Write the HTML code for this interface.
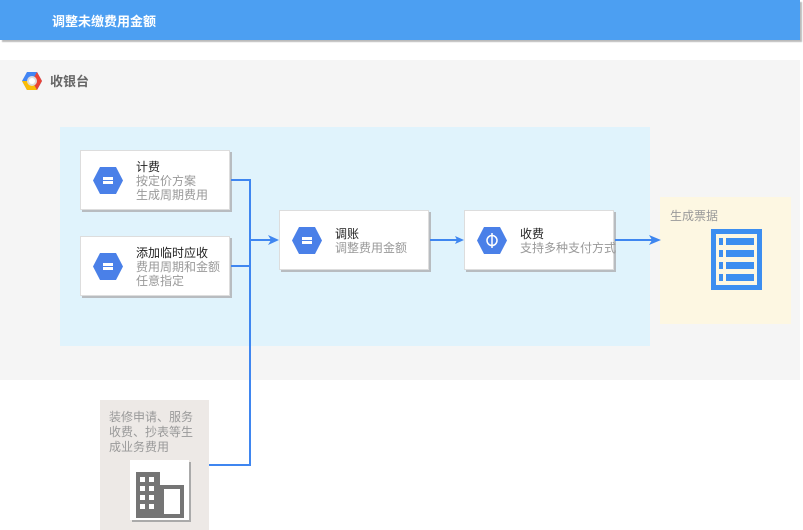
<!DOCTYPE html>
<html><head><meta charset="utf-8"><style>
body{margin:0;width:803px;height:530px;position:relative;overflow:hidden;background:#fff;font-family:"Liberation Sans","Noto Sans CJK SC",sans-serif}
.a{position:absolute}
.node{position:absolute;background:#fff;border:1px solid #ddd;box-shadow:2px 2px 0 #b8bcc0;width:150px;height:60px;box-sizing:border-box}
.t{position:absolute;left:55px;font-size:12px;line-height:14px;color:#222;white-space:nowrap}
.t span{color:#999}
.hex{position:absolute;left:12px;top:16px}
</style></head><body>
<div class="a" style="left:0;top:0;width:800px;height:40px;background:#4c9ff2;box-shadow:2px 2px 1px #bbb"></div>
<div class="a" style="left:52px;top:11px;color:#fff;font-size:13px;font-weight:bold">调整未缴费用金额</div>
<div class="a" style="left:0;top:60px;width:800px;height:320px;background:#f5f5f5"></div>
<svg class="a" style="left:21px;top:70px" width="22" height="22" viewBox="0 0 22 22"><polygon points="6,2 16,2 21,11 16,20 6,20 1,11" fill="#4285f4"/><polygon points="16,2 21,11 16,20 11,11" fill="#ea4335"/><polygon points="1,11 6,20 16,20 11,11" fill="#fbbc05"/><circle cx="11" cy="11" r="5" fill="#ddd"/><circle cx="11" cy="11" r="3" fill="#fff"/></svg>
<div class="a" style="left:50px;top:71px;font-size:13px;font-weight:bold;color:#666">收银台</div>
<div class="a" style="left:60px;top:127px;width:590px;height:219px;background:#e0f3fc"></div>
<div class="a" style="left:660px;top:197px;width:131px;height:127px;background:#fdf7e2"></div>
<div class="a" style="left:670px;top:207px;font-size:12px;color:#999">生成票据</div>
<svg class="a" style="left:711px;top:229px" width="51" height="61"><rect x="0" y="0" width="51" height="61" fill="#3c8ef0"/><rect x="5" y="5" width="41" height="51" fill="#fdf7e2"/><g fill="#3c8ef0"><rect x="8" y="9" width="4" height="7"/><rect x="15" y="9" width="28" height="7"/><rect x="8" y="21" width="4" height="7"/><rect x="15" y="21" width="28" height="7"/><rect x="8" y="33" width="4" height="7"/><rect x="15" y="33" width="28" height="7"/><rect x="8" y="45" width="4" height="7"/><rect x="15" y="45" width="28" height="7"/></g></svg>

<div class="node" style="left:80px;top:150px"><svg class="hex" width="30" height="27"><polygon points="7,0 23,0 30,13.5 23,27 7,27 0,13.5" fill="#4a80e8"/><rect x="10" y="10" width="10" height="3" fill="#fff"/><rect x="10" y="14" width="10" height="3" fill="#fff"/></svg><div class="t" style="top:9px">计费<br><span>按定价方案<br>生成周期费用</span></div></div>
<div class="node" style="left:80px;top:236px"><svg class="hex" width="30" height="27"><polygon points="7,0 23,0 30,13.5 23,27 7,27 0,13.5" fill="#4a80e8"/><rect x="10" y="10" width="10" height="3" fill="#fff"/><rect x="10" y="14" width="10" height="3" fill="#fff"/></svg><div class="t" style="top:9px">添加临时应收<br><span>费用周期和金额<br>任意指定</span></div></div>
<div class="node" style="left:279px;top:210px"><svg class="hex" width="30" height="27"><polygon points="7,0 23,0 30,13.5 23,27 7,27 0,13.5" fill="#4a80e8"/><rect x="10" y="10" width="10" height="3" fill="#fff"/><rect x="10" y="14" width="10" height="3" fill="#fff"/></svg><div class="t" style="top:16px">调账<br><span>调整费用金额</span></div></div>
<div class="node" style="left:464px;top:210px"><svg class="hex" width="30" height="27"><polygon points="7,0 23,0 30,13.5 23,27 7,27 0,13.5" fill="#4a80e8"/><circle cx="15" cy="13.5" r="5" fill="none" stroke="#fff" stroke-width="1.5"/><line x1="15" y1="6" x2="15" y2="21" stroke="#fff" stroke-width="1.5"/></svg><div class="t" style="top:16px">收费<br><span>支持多种支付方式</span></div></div>

<div class="a" style="left:100px;top:400px;width:109px;height:130px;background:#ede9e6"></div>
<div class="a" style="left:109px;top:410px;font-size:12px;line-height:15px;color:#999">装修申请、服务<br>收费、抄表等生<br>成业务费用</div>
<div class="a" style="left:130px;top:460px;width:59px;height:60px;background:#fff;box-shadow:2px 2px 0 #aaa"></div>
<svg class="a" style="left:136px;top:472px" width="50" height="46"><rect x="0" y="0" width="24" height="46" fill="#757575"/><rect x="24" y="13" width="24" height="33" fill="#757575"/><rect x="28" y="17" width="16" height="25" fill="#fff"/><g fill="#fff"><rect x="4" y="5" width="5" height="5"/><rect x="13" y="5" width="5" height="5"/><rect x="4" y="14" width="5" height="5"/><rect x="13" y="14" width="5" height="5"/><rect x="4" y="23" width="5" height="5"/><rect x="13" y="23" width="5" height="5"/><rect x="4" y="32" width="5" height="5"/><rect x="13" y="32" width="5" height="5"/></g></svg>

<svg class="a" style="left:0;top:0" width="803" height="530"><g stroke="#3f86f0" stroke-width="2" fill="none"><polyline points="231,180 250,180 250,465 209,465"/><line x1="231" y1="266" x2="250" y2="266"/><line x1="250" y1="240" x2="272" y2="240"/><line x1="430" y1="240" x2="457" y2="240"/><line x1="615" y1="240" x2="652" y2="240"/></g><g fill="#3f86f0"><polygon points="279,240 268,235 271,240 268,245"/><polygon points="464,240 455,236 457,240 455,244"/><polygon points="661,240 649,235 652,240 649,245"/></g></svg>
</body></html>
